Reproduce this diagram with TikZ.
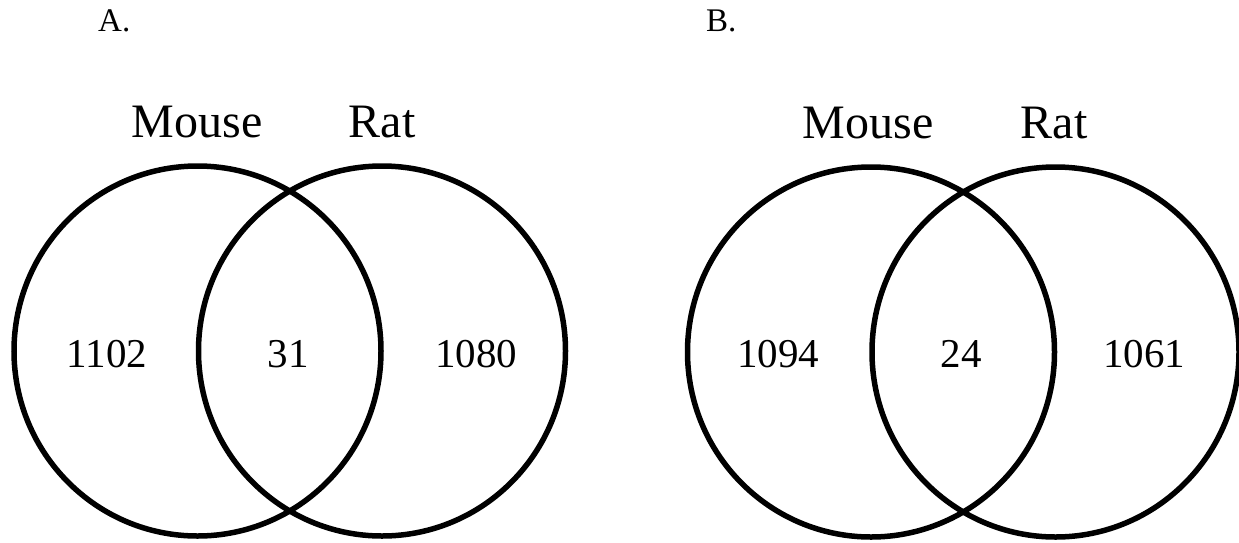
\documentclass[tikz,border=0pt]{standalone}
\usepackage{fontspec}
\setmainfont{Liberation Serif}
\begin{document}
\begin{tikzpicture}[x=1pt,y=-1pt,
  setring/.style={draw=black,line width=5.5pt},
  setname/.style={anchor=base,inner sep=0pt,font=\fontsize{48}{48}\selectfont},
  count/.style={anchor=base,inner sep=0pt,font=\fontsize{41}{41}\selectfont},
  panel/.style={anchor=base west,inner sep=0pt,font=\fontsize{33}{33}\selectfont}]
\useasboundingbox (0,0) rectangle (1239,542);

% Panel A
\node[panel] (labA) at (98,31) {A.};
\draw[setring] (197.5,351) ellipse [x radius=183.5, y radius=185];
\draw[setring] (382,351) ellipse [x radius=183.5, y radius=185];
\node[setname] (mouseA) at (197,137) {Mouse};
\node[setname] (ratA) at (382,137) {Rat};
\node[count] (onlyMouseA) at (107,367) {1102};
\node[count] (bothA) at (288,367) {31};
\node[count] (onlyRatA) at (476,367) {1080};

% Panel B
\node[panel] (labB) at (706,31) {B.};
\draw[setring] (871,352) ellipse [x radius=183.5, y radius=185];
\draw[setring] (1055.5,352) ellipse [x radius=183.5, y radius=185];
\node[setname] (mouseB) at (868,138) {Mouse};
\node[setname] (ratB) at (1054,138) {Rat};
\node[count] (onlyMouseB) at (778,367) {1094};
\node[count] (bothB) at (961,367) {24};
\node[count] (onlyRatB) at (1144,367) {1061};
\end{tikzpicture}
\end{document}
